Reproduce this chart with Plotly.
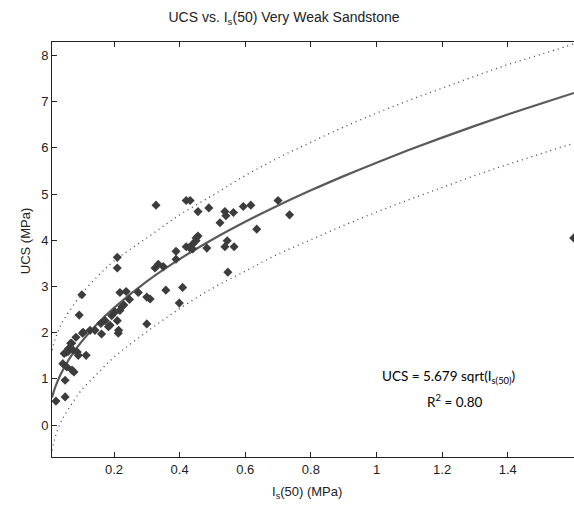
import plotly.graph_objects as go

# Measured data points: Is(50) (MPa) vs UCS (MPa)
is50 = [0.023, 0.051, 0.051, 0.044, 0.056, 0.061, 0.072, 0.078, 0.048, 0.056, 0.068,
        0.061, 0.076, 0.088, 0.091, 0.115, 0.084, 0.104, 0.127, 0.142, 0.162, 0.183,
        0.213, 0.102, 0.094, 0.106, 0.071, 0.210, 0.210, 0.218, 0.237, 0.247, 0.218,
        0.224, 0.210, 0.214, 0.193, 0.173, 0.188, 0.160, 0.300, 0.300, 0.310, 0.274,
        0.325, 0.350, 0.328, 0.358, 0.389, 0.389, 0.409, 0.399, 0.420, 0.432, 0.456,
        0.489, 0.420, 0.430, 0.440, 0.440, 0.450, 0.450, 0.456, 0.483, 0.523, 0.538,
        0.541, 0.564, 0.545, 0.538, 0.566, 0.547, 0.594, 0.617, 0.700, 0.735, 0.635,
        0.203, 0.230, 0.335, 1.601]
ucs = [0.52, 0.61, 0.97, 1.33, 1.26, 1.65, 1.19, 1.15, 1.55, 1.58, 1.77,
       1.60, 1.62, 1.58, 1.51, 1.51, 1.90, 1.99, 2.05, 2.05, 1.97, 2.13,
       1.99, 2.82, 2.38, 2.01, 1.77, 3.63, 3.40, 2.87, 2.89, 2.72, 2.48,
       2.56, 2.26, 2.05, 2.37, 2.26, 2.16, 2.20, 2.19, 2.77, 2.73, 2.87,
       3.40, 3.43, 4.76, 2.92, 3.76, 3.59, 2.98, 2.64, 4.86, 4.86, 4.62,
       4.70, 3.86, 3.84, 3.81, 3.92, 3.99, 4.05, 4.09, 3.83, 4.38, 4.62,
       4.53, 4.60, 3.99, 3.86, 3.86, 3.31, 4.73, 4.76, 4.86, 4.55, 4.24,
       2.45, 2.60, 3.48, 4.05]

fit_coef = 5.679
curve_x = [0.011, 0.02, 0.035, 0.05, 0.075, 0.1, 0.15, 0.2, 0.3, 0.4, 0.5, 0.6, 0.7,
           0.8, 0.9, 1.0, 1.1, 1.2, 1.3, 1.4, 1.5, 1.602]
upper_y = [1.62, 1.85, 2.12, 2.32, 2.58, 2.83, 3.22, 3.55, 4.05, 4.55, 4.97, 5.40, 5.78,
           6.12, 6.45, 6.75, 7.03, 7.29, 7.55, 7.80, 8.02, 8.25]
lower_y = [-0.55, -0.28, 0.02, 0.22, 0.50, 0.75, 1.12, 1.47, 2.02, 2.52, 2.96, 3.33, 3.70,
           4.01, 4.32, 4.61, 4.88, 5.14, 5.40, 5.64, 5.87, 6.10]

x_ticks = [0.2, 0.4, 0.6, 0.8, 1.0, 1.2, 1.4]
x_tick_text = ["0.2", "0.4", "0.6", "0.8", "1", "1.2", "1.4"]
y_ticks = [0, 1, 2, 3, 4, 5, 6, 7, 8]

fit_y = [fit_coef * x ** 0.5 for x in curve_x]

AX = "#222222"
fig = go.Figure()
fig.add_trace(go.Scatter(x=curve_x, y=upper_y, mode="lines",
                         line=dict(color="#444444", width=1.3, dash="1px,4px", shape="spline"), hoverinfo="skip"))
fig.add_trace(go.Scatter(x=curve_x, y=lower_y, mode="lines",
                         line=dict(color="#444444", width=1.3, dash="1px,4px", shape="spline"), hoverinfo="skip"))
fig.add_trace(go.Scatter(x=curve_x, y=fit_y, mode="lines",
                         line=dict(color="#5a5a5a", width=2.2, shape="spline"), hoverinfo="skip"))
fig.add_trace(go.Scatter(x=is50, y=ucs, mode="markers",
                         marker=dict(symbol="diamond", size=7, color="#3c3c3c", line=dict(width=0))))

fig.update_layout(
    width=574, height=507,
    margin=dict(l=52, r=0, t=42, b=50),
    paper_bgcolor="white", plot_bgcolor="white",
    showlegend=False,
    font=dict(family="Liberation Sans, Arial, sans-serif", size=13, color=AX),
    title=dict(text="UCS vs. I<sub>s</sub>(50) Very Weak Sandstone", x=0.4948, xanchor="center",
               xref="container", y=0.9665, yanchor="middle", yref="container",
               font=dict(size=14, color=AX)),
    xaxis=dict(range=[0.011, 1.602], tickvals=x_ticks, ticktext=x_tick_text, automargin=False,
               ticks="inside", ticklen=5, tickcolor=AX, showline=True, linecolor=AX,
               linewidth=1, mirror="ticks", showgrid=False, zeroline=False),
    yaxis=dict(range=[-0.69, 8.29], tickvals=y_ticks, automargin=False,
               ticks="inside", ticklen=5, tickcolor=AX, showline=True, linecolor=AX,
               linewidth=1, showgrid=False, zeroline=False),
)

# axis titles
fig.add_annotation(x=0.4885, y=0, xref="paper", yref="paper", yshift=-35, showarrow=False,
                   text="I<sub>s</sub>(50) (MPa)", font=dict(size=13, color=AX), yanchor="middle")
fig.add_annotation(x=0, y=0.52, xref="paper", yref="paper", xshift=-27, showarrow=False,
                   text="UCS (MPa)", textangle=-90, font=dict(size=13, color=AX), xanchor="center")

fig.add_annotation(x=1.22, y=1.05, xref="x", yref="y", showarrow=False,
                   text="UCS = 5.679 sqrt(I<sub>s(50)</sub>)",
                   font=dict(family="Lato, Noto Sans, sans-serif", size=13.5, color="#000000"))
fig.add_annotation(x=1.24, y=0.52, xref="x", yref="y", showarrow=False,
                   text="R<sup>2</sup> = 0.80",
                   font=dict(family="Lato, Noto Sans, sans-serif", size=13.5, color="#000000"))

page_css = ("document.body.style.margin='0';"
            "document.body.style.overflow='hidden';"
            "document.documentElement.style.overflow='hidden';")
fig.write_html("out.html", post_script=page_css, config={"displayModeBar": False})
